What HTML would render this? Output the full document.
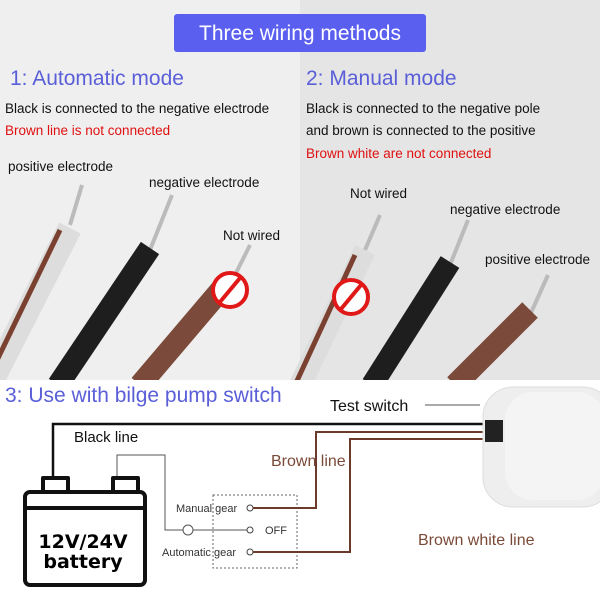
<!DOCTYPE html>
<html><head><style>body{margin:0;width:600px;height:600px;overflow:hidden;background:#fff}</style></head>
<body>
<svg width="600" height="600" viewBox="0 0 600 600" xmlns="http://www.w3.org/2000/svg" font-family="Liberation Sans, sans-serif">
<rect x="0" y="0" width="300" height="380" fill="#efefef"/>
<rect x="300" y="0" width="300" height="380" fill="#e5e5e5"/>
<rect x="174" y="14" width="252" height="38" rx="3" fill="#5a5ff0"/>
<text x="300" y="40" fill="#fff" font-size="21" text-anchor="middle">Three wiring methods</text>
<text x="10" y="85" fill="#5a5fd8" font-size="21">1: Automatic mode</text>
<text x="306" y="85" fill="#5a5fd8" font-size="21">2: Manual mode</text>
<g font-size="13.5">
<text x="5" y="113" fill="#111">Black is connected to the negative electrode</text>
<text x="5" y="135" fill="#e01010">Brown line is not connected</text>
<text x="306" y="113" fill="#111">Black is connected to the negative pole</text>
<text x="306" y="135" fill="#111">and brown is connected to the positive</text>
<text x="306" y="158" fill="#e01010">Brown white are not connected</text>
<text x="8" y="171" fill="#111">positive electrode</text>
<text x="149" y="187" fill="#111">negative electrode</text>
<text x="223" y="240" fill="#111">Not wired</text>
<text x="350" y="198" fill="#111">Not wired</text>
<text x="450" y="214" fill="#111">negative electrode</text>
<text x="485" y="264" fill="#111">positive electrode</text>
</g>
<g stroke-linecap="butt">
<line x1="70" y1="225" x2="82" y2="185" stroke="#bbb" stroke-width="4"/>
<line x1="-10" y1="385" x2="70" y2="228" stroke="#ddd" stroke-width="24"/>
<line x1="-14" y1="383" x2="60" y2="230" stroke="#7a4030" stroke-width="5"/>
<line x1="150" y1="250" x2="172" y2="195" stroke="#bbb" stroke-width="4"/>
<line x1="58" y1="385" x2="150" y2="248" stroke="#1e1e1e" stroke-width="22"/>
<line x1="230" y1="285" x2="250" y2="245" stroke="#bbb" stroke-width="4"/>
<line x1="140" y1="385" x2="225" y2="285" stroke="#7b4a3a" stroke-width="22"/>
<line x1="365" y1="250" x2="380" y2="215" stroke="#bbb" stroke-width="4"/>
<line x1="300" y1="385" x2="365" y2="250" stroke="#ddd" stroke-width="22"/>
<line x1="296" y1="383" x2="355" y2="255" stroke="#7a4030" stroke-width="5"/>
<line x1="450" y1="265" x2="468" y2="220" stroke="#bbb" stroke-width="4"/>
<line x1="372" y1="385" x2="450" y2="262" stroke="#1e1e1e" stroke-width="22"/>
<line x1="530" y1="315" x2="548" y2="275" stroke="#bbb" stroke-width="4"/>
<line x1="455" y1="385" x2="530" y2="310" stroke="#7b4a3a" stroke-width="22"/>
</g>
<g fill="#fff" stroke="#e01818" stroke-width="4">
<circle cx="230" cy="290" r="17"/><line x1="220" y1="302" x2="240" y2="278"/>
<circle cx="351" cy="297" r="17"/><line x1="341" y1="309" x2="361" y2="285"/>
</g>
<rect x="0" y="380" width="600" height="220" fill="#fff"/>
<text x="5" y="402" fill="#5a5fd8" font-size="21">3: Use with bilge pump switch</text>
<text x="330" y="411" fill="#111" font-size="16">Test switch</text>
<line x1="425" y1="405" x2="480" y2="405" stroke="#555" stroke-width="1"/>
<text x="74" y="442" fill="#111" font-size="15">Black line</text>
<text x="271" y="466" fill="#7a4a38" font-size="16">Brown line</text>
<text x="418" y="545" fill="#7a4a38" font-size="16">Brown white line</text>
<polyline points="53,478 53,424 490,424" fill="none" stroke="#111" stroke-width="2.5"/>
<polyline points="117,478 117,455 165,455 165,530 183,530" fill="none" stroke="#555" stroke-width="1"/>
<line x1="193" y1="530" x2="247" y2="530" stroke="#555" stroke-width="1"/>
<circle cx="188" cy="530" r="5" fill="#fff" stroke="#555"/>
<rect x="213" y="495" width="84" height="73" fill="none" stroke="#666" stroke-dasharray="2,2"/>
<circle cx="250" cy="508" r="3" fill="#fff" stroke="#444"/>
<circle cx="250" cy="530" r="3" fill="#fff" stroke="#444"/>
<circle cx="250" cy="552" r="3" fill="#fff" stroke="#444"/>
<g font-size="11" fill="#333"><text x="176" y="512">Manual gear</text><text x="265" y="534">OFF</text><text x="162" y="556">Automatic gear</text></g>
<polyline points="253,508 316,508 316,432 490,432" fill="none" stroke="#6b3a2a" stroke-width="2"/>
<polyline points="253,552 350,552 350,439 490,439" fill="none" stroke="#6b3a2a" stroke-width="2"/>
<rect x="483" y="387" width="130" height="120" rx="30" fill="#eeeeee" stroke="#ddd"/>
<rect x="505" y="392" width="100" height="108" rx="28" fill="#f4f4f4"/>
<rect x="485" y="420" width="18" height="22" fill="#222"/>
<g stroke="#111" stroke-width="4" fill="none" stroke-linejoin="round">
<rect x="43" y="478" width="25" height="14" fill="#fff"/>
<rect x="113" y="478" width="25" height="14" fill="#fff"/>
<rect x="25" y="492" width="120" height="93" rx="5" fill="#fff"/>
<line x1="25" y1="508" x2="145" y2="508"/>
</g>
<text x="83" y="548" font-size="19" font-weight="bold" text-anchor="middle" font-family="DejaVu Sans, sans-serif">12V/24V</text>
<text x="83" y="568" font-size="19" font-weight="bold" text-anchor="middle" font-family="DejaVu Sans, sans-serif">battery</text>
</svg>
</body></html>
